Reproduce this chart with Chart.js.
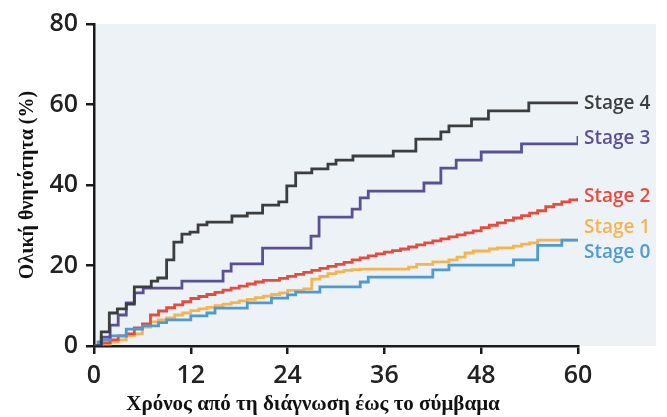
<!DOCTYPE html>
<html>
<head>
<meta charset="utf-8">
<script src="https://cdn.jsdelivr.net/npm/chart.js@4.4.1/dist/chart.umd.min.js"></script>
<style>
  html, body { margin: 0; padding: 0; background: #fff; }
  #wrap { width: 667px; height: 417px; }
</style>
</head>
<body>
<div id="wrap"><canvas id="chart" width="667" height="417"></canvas></div>
<script>
// months since diagnosis / cumulative mortality (%) at each step
const stageNames = ['Stage 4', 'Stage 3', 'Stage 2', 'Stage 1', 'Stage 0'];

const stage4Months = [0, 0.9, 1.9, 2.9, 4, 5, 7.1, 7.9, 9, 9.9, 10.9, 11.9, 12.9, 14, 17.1, 19, 20.9, 22.9, 23.9, 25, 27, 29, 30, 32.1, 37.1, 39.9, 43, 44, 46.8, 48.9, 53.9, 60];
const stage4Values = [0, 3.5, 8.2, 9.2, 10.4, 14.7, 16.1, 16.9, 21.4, 25.8, 27.8, 28.3, 30.1, 30.8, 32.3, 33, 35, 35.8, 39.8, 43, 44, 45.2, 46.2, 47.2, 48.4, 51.4, 53.2, 54.7, 56.4, 58.4, 60.4, 60.4];

const stage3Months = [0, 0.9, 2, 3, 4, 5, 6.1, 10.9, 16, 17, 20.9, 26.9, 27.9, 32, 33, 34, 40.9, 43, 44.9, 48, 53, 60];
const stage3Values = [0, 2.2, 5.2, 7.7, 10.7, 13.2, 14.4, 16.1, 18.6, 20.4, 24.3, 27.3, 32, 34, 36.8, 38.5, 40.5, 44.2, 46.2, 48.2, 50.2, 52.2];

const stage2Months = [0, 1, 2, 3, 4, 5, 6, 7, 8, 9, 10, 11, 12, 13, 14, 15, 16, 17, 18, 19, 20, 21, 22, 23, 24, 25, 26, 27, 28, 29, 30, 31, 32, 33, 34, 35, 36, 37, 38, 39, 40, 41, 42, 43, 44, 45, 46, 47, 48, 49, 50, 51, 52, 53, 54, 55, 56, 57, 58, 59, 60];
const stage2Values = [0, 0.8, 1.5, 2.5, 3, 4.5, 5.5, 7.7, 8.7, 9.5, 10.2, 11, 11.8, 12.3, 12.8, 13.3, 13.9, 14.4, 14.9, 15.4, 15.9, 16.3, 16.3, 16.8, 17.3, 17.8, 18.3, 18.8, 19.3, 19.8, 20.3, 20.8, 21.4, 21.9, 22.4, 22.9, 23.3, 23.7, 24.1, 24.6, 25.1, 25.6, 26.1, 26.6, 27.1, 27.6, 28.1, 28.6, 29.4, 30, 30.6, 31.2, 31.8, 32.4, 33, 33.6, 34.6, 35.2, 35.8, 36.3, 36.8];

const stage1Months = [0, 1, 2, 3, 4, 5, 6, 7, 8, 9, 10, 11, 12, 13, 14, 15, 16, 17, 18, 19, 20, 21, 22, 23, 24, 26, 27, 28, 29, 30, 31, 32, 33, 39, 40, 42, 44, 45, 46, 47, 49, 50, 52, 53, 54, 55, 60];
const stage1Values = [0, 0.5, 1, 1.5, 2.5, 3, 4.7, 6, 6.5, 7, 7.7, 8.2, 8.8, 9.2, 9.6, 10, 10.4, 10.8, 11.2, 11.6, 12, 12.4, 12.8, 13.2, 13.8, 14.2, 16.6, 17.3, 18, 18.4, 18.8, 19, 19.1, 19.6, 20.3, 20.9, 21.4, 22.1, 23.1, 23.6, 24.1, 24.4, 24.8, 25.3, 25.6, 26.3, 26.3];

const stage0Months = [0, 0.5, 1, 2, 4, 6, 8, 9, 12, 14, 15, 19, 22, 24, 25, 28, 33, 34, 42, 44, 52, 55, 58, 60];
const stage0Values = [0, 1, 1.5, 2.5, 4.2, 5, 5.8, 6.5, 7.5, 8.2, 9.4, 10.7, 11.9, 12.7, 13.4, 14.7, 15.9, 17.1, 18.9, 20.1, 21.4, 25, 26.3, 26.3];

const yTicks = [0, 20, 40, 60, 80];
const xTicks = [0, 12, 24, 36, 48, 60];

const yTitle = 'Ολική θνητότητα (%)';
const xTitle = 'Χρόνος από τη διάγνωση έως το σύμβαμα';

const colors = ['#3d3d3d', '#5b4f98', '#e84a3c', '#f6b44e', '#4d9bd2'];
// small vertical nudges so the end labels do not overlap
const labelNudge = [1, 3, -1, -13, 12];

const allMonths = [stage4Months, stage3Months, stage2Months, stage1Months, stage0Months];
const allValues = [stage4Values, stage3Values, stage2Values, stage1Values, stage0Values];

const decorPlugin = {
    id: 'decor',
    beforeDraw(chart) {
        const { ctx, chartArea } = chart;
        ctx.save();
        ctx.fillStyle = '#edf2f7';
        ctx.fillRect(chartArea.left, chartArea.top, 656 - chartArea.left, chartArea.bottom - chartArea.top);
        ctx.restore();
    },
    afterDraw(chart) {
        const { ctx, chartArea } = chart;
        ctx.save();
        // end-of-line labels
        ctx.font = '600 19px "Open Sans", sans-serif';
        ctx.textBaseline = 'middle';
        ctx.textAlign = 'left';
        chart.data.datasets.forEach((ds, i) => {
            const meta = chart.getDatasetMeta(i);
            const last = meta.data[meta.data.length - 1];
            ctx.fillStyle = colors[i];
            ctx.fillText(stageNames[i], last.x + 6, last.y + labelNudge[i]);
        });
        // axis titles
        ctx.fillStyle = '#111';
        ctx.font = 'bold 21px "Liberation Serif", "DejaVu Serif", serif';
        ctx.textAlign = 'center';
        ctx.fillText(xTitle, 313, 405);
        ctx.translate(28, (chartArea.top + chartArea.bottom) / 2);
        ctx.rotate(-Math.PI / 2);
        ctx.font = 'bold 20px "Liberation Serif", "DejaVu Serif", serif';
        ctx.fillText(yTitle, 0, 0);
        ctx.restore();
    }
};

const datasets = stageNames.map((name, i) => ({
    label: name,
    data: allMonths[i].map((m, j) => ({ x: m, y: allValues[i][j] })),
    borderColor: colors[i],
    borderWidth: 2.8,
    stepped: 'before',
    pointRadius: 0,
    fill: false,
    order: i === 4 ? 1 : i
}));

const tickFont = { family: '"Open Sans", sans-serif', size: 25, weight: '600' };

new Chart(document.getElementById('chart').getContext('2d'), {
    type: 'line',
    data: { datasets },
    options: {
        responsive: false,
        animation: false,
        layout: { padding: { top: 24, right: 89, left: 0, bottom: 0 } },
        plugins: {
            legend: { display: false },
            tooltip: { enabled: false }
        },
        scales: {
            x: {
                type: 'linear',
                min: 0,
                max: 60,
                afterFit(scale) { scale.height = 71; },
                afterBuildTicks(scale) { scale.ticks = xTicks.map(v => ({ value: v })); },
                border: { color: '#1a1a1a', width: 2.5 },
                grid: { drawOnChartArea: false, drawTicks: true, tickLength: 8, color: '#1a1a1a', lineWidth: 2.5 },
                ticks: { color: '#222', font: tickFont, padding: 7, maxRotation: 0 }
            },
            y: {
                min: 0,
                max: 80,
                afterFit(scale) { scale.width = 94; },
                afterBuildTicks(scale) { scale.ticks = yTicks.map(v => ({ value: v })); },
                border: { color: '#1a1a1a', width: 2.5 },
                grid: { drawOnChartArea: false, drawTicks: true, tickLength: 8, color: '#1a1a1a', lineWidth: 2.5 },
                ticks: { color: '#222', font: tickFont, padding: 8 }
            }
        }
    },
    plugins: [decorPlugin]
});
</script>
</body>
</html>
